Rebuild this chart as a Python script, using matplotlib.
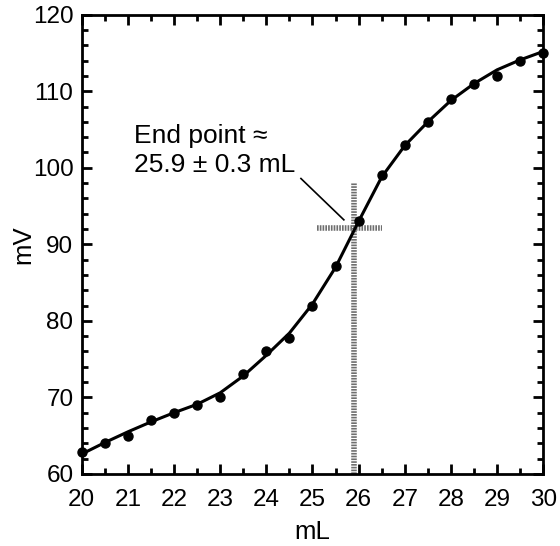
import matplotlib.pyplot as plt
from matplotlib.ticker import MultipleLocator
import numpy as np

plt.rcParams['font.family'] = ['Liberation Sans', 'DejaVu Sans']

# titration data
ml = [20, 20.5, 21, 21.5, 22, 22.5, 23, 23.5, 24, 24.5, 25, 25.5,
      26, 26.5, 27, 27.5, 28, 28.5, 29, 29.5, 30]
mv = [62.8, 64.1, 65.0, 67.0, 68.0, 69.0, 70.0, 73.0, 76.0, 77.8, 82.0, 87.2,
      93.0, 99.0, 103.0, 106.0, 109.0, 111.0, 112.0, 114.0, 115.0]
# smooth curve read at the same volumes
fit_mv = [62.6, 64.1, 65.5, 66.8, 68.0, 69.1, 70.6, 72.8, 75.5, 78.4, 82.2, 87.0,
          93.0, 98.8, 102.9, 106.0, 108.8, 111.0, 112.8, 114.1, 115.2]

end_point = 25.9
end_mv = 92.1

fig = plt.figure(figsize=(5.6, 5.46), dpi=100)
ax = fig.add_axes([0.146, 0.132, 0.824, 0.841])

ax.plot(ml, fit_mv, color='black', lw=2.2, zorder=3)
ax.plot(ml, mv, 'o', color='black', ms=6.5, zorder=4, clip_on=False)

# end point cross
ax.plot([end_point, end_point], [60, 98], color='#6e6e6e', lw=4,
        linestyle=(0, (0.3, 0.2)), zorder=2)
ax.plot([25.1, 26.5], [end_mv, end_mv], color='#6e6e6e', lw=4,
        linestyle=(0, (0.3, 0.2)), zorder=2)

ax.plot([24.75, 25.68], [98.6, 93.2], color='black', lw=1.2)
ax.text(21.13, 98.8, 'End point \u2248\n25.9 \u00b1 0.3 mL', fontsize=19,
        ha='left', va='bottom', linespacing=1.25)

ax.set_xlim(20, 30)
ax.set_ylim(60, 120)
ax.xaxis.set_major_locator(MultipleLocator(1))
ax.xaxis.set_minor_locator(MultipleLocator(0.5))
ax.yaxis.set_major_locator(MultipleLocator(10))
ax.yaxis.set_minor_locator(MultipleLocator(2))
ax.tick_params(which='both', direction='in', top=True, right=True, width=2)
ax.tick_params(which='major', length=7, labelsize=17.5, pad=6)
ax.tick_params(axis='x', which='major', pad=11)
ax.tick_params(which='minor', length=4)
for s in ax.spines.values():
    s.set_linewidth(2)

ax.set_xlabel('mL', fontsize=18.5, labelpad=6)
ax.set_ylabel('mV', fontsize=18.5, labelpad=-2)

fig.savefig('out.png', dpi=100)
